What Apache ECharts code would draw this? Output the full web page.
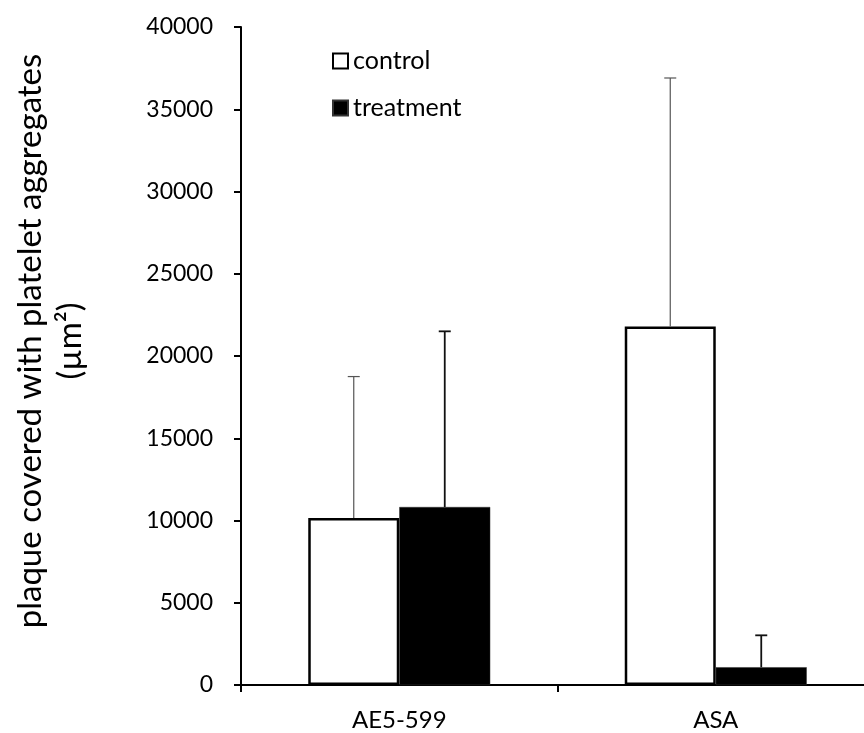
<!DOCTYPE html>
<html>
<head>
<meta charset="utf-8">
<script src="https://cdn.jsdelivr.net/npm/echarts@6/dist/echarts.min.js"></script>
<style>
html,body{margin:0;padding:0;background:#fff;}
#chart{width:864px;height:733px;}
</style>
</head>
<body>
<div id="chart"></div>
<script>
const categories = ['AE5-599', 'ASA'];
const seriesNames = ['control', 'treatment'];
const controlMean = [10150, 21800];
const controlErrTop = [18750, 36900];
const treatmentMean = [10820, 1080];
const treatmentErrTop = [21500, 3020];
const yMin = 0, yMax = 40000, yStep = 5000;
const yTitleLines = ['plaque covered with platelet aggregates', '(µm²)'];

const BAR_W = 91;
const FONT = 'Lato';
const chart = echarts.init(document.getElementById('chart'));

function errSeries(name, means, tops, offsetSign, color, width) {
  return {
    type: 'custom',
    name: name + ' error',
    silent: true,
    z: 5,
    data: means.map((m, i) => [i, m, tops[i]]),
    renderItem: function (params, api) {
      const base = api.coord([api.value(0), api.value(1)]);
      const top = api.coord([api.value(0), api.value(2)]);
      const x = base[0] + offsetSign * BAR_W / 2;
      const cap = 6;
      return {
        type: 'group',
        children: [
          { type: 'line', shape: { x1: x, y1: base[1], x2: x, y2: top[1] },
            style: { stroke: color, lineWidth: width } },
          { type: 'line', shape: { x1: x - cap, y1: top[1], x2: x + cap, y2: top[1] },
            style: { stroke: color, lineWidth: width } }
        ]
      };
    }
  };
}

chart.setOption({
  animation: false,
  backgroundColor: '#fff',
  grid: { left: 241, top: 27, width: 633, height: 658, containLabel: false, outerBoundsMode: 'none' },
  legend: {
    data: seriesNames,
    orient: 'vertical',
    left: 332, top: 46,
    itemWidth: 15, itemHeight: 15, itemGap: 17,
    padding: 0,
    icon: 'rect',
    textStyle: { fontFamily: FONT, fontSize: 25, color: '#000', lineHeight: 30 }
  },
  graphic: [{
    type: 'text',
    x: 50, y: 341,
    rotation: Math.PI / 2,
    style: {
      text: yTitleLines.join('\n'),
      fontFamily: FONT, fontSize: 33, lineHeight: 40,
      fill: '#000', align: 'center', verticalAlign: 'middle'
    }
  }],
  xAxis: {
    type: 'category',
    data: categories,
    axisLine: { lineStyle: { color: '#000', width: 2 } },
    axisTick: { show: true, length: 7, lineStyle: { color: '#000', width: 2 } },
    axisLabel: { fontFamily: FONT, fontSize: 24, color: '#000', margin: 23 }
  },
  yAxis: {
    type: 'value',
    min: yMin, max: yMax, interval: yStep,
    splitLine: { show: false },
    axisLine: { show: true, lineStyle: { color: '#000', width: 2 } },
    axisTick: { show: true, length: 7, lineStyle: { color: '#000', width: 2 } },
    axisLabel: { fontFamily: FONT, fontSize: 23, color: '#000', margin: 28,
      formatter: v => String(v) }
  },
  series: [
    {
      name: 'control', type: 'bar', data: controlMean,
      barWidth: BAR_W, barGap: '0%',
      itemStyle: { color: '#fff', borderColor: '#000', borderWidth: 2.5 },
      z: 2
    },
    {
      name: 'treatment', type: 'bar', data: treatmentMean,
      barWidth: BAR_W, barGap: '0%',
      itemStyle: { color: '#000', borderColor: '#333', borderWidth: 0.5 },
      z: 3
    },
    errSeries('control', controlMean, controlErrTop, -1, '#555', 1.2),
    errSeries('treatment', treatmentMean, treatmentErrTop, 1, '#111', 1.8)
  ]
});
</script>
</body>
</html>
